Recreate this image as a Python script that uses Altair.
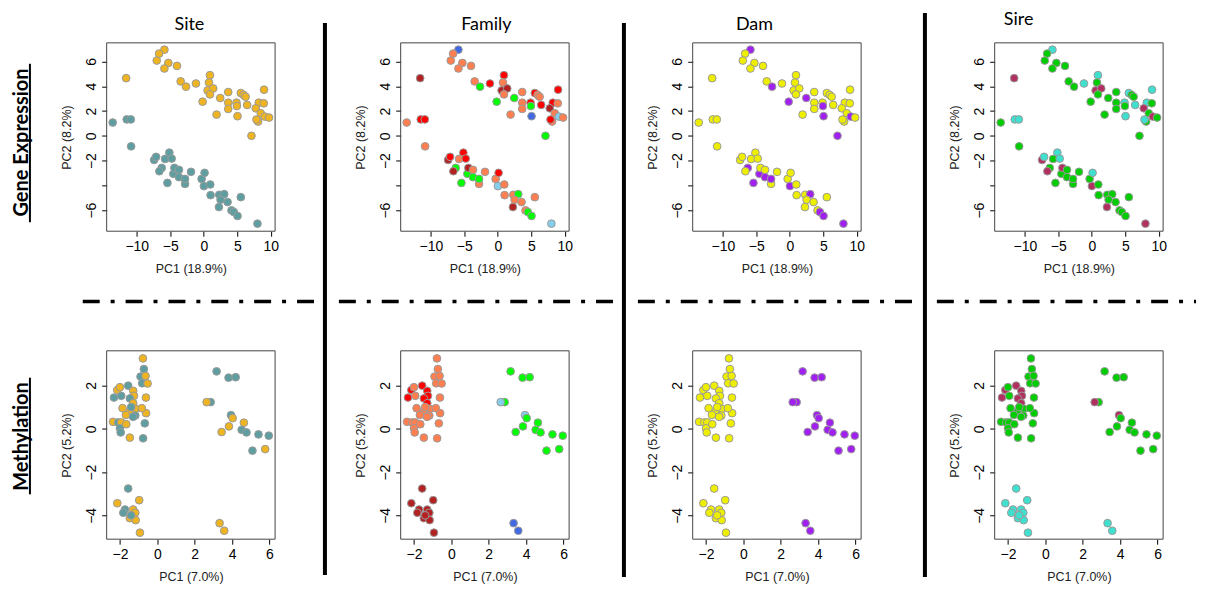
import altair as alt
import pandas as pd

# ---------------- Gene expression PCA (PC1 18.9 %, PC2 8.2 %) ----------------
ge_pc1 = [-5.88, -6.67, -7.02, -5.29, -5.88, -4.00, -11.59, -3.45, -2.65, -1.17,
          0.92, 0.77, 0.57, 1.41, 0.92, -0.17, 1.91, 2.46, 3.65, 3.65,
          3.65, 4.89, 5.04, 5.53, 5.95, 6.25, 6.48, 4.94, 7.12, 9.00,
          8.21, 8.96, 7.76, 8.51, 8.11, 9.11, 9.75, 7.87,
          -13.60, -11.50, -10.90, -10.85,
          -7.42, -7.12, -5.14, -5.78, -4.79, -6.28, -6.63, -5.43, -4.54, -4.39,
          -3.70, -3.70, -2.80, -2.80, -1.91, -0.32, 0.12, 0.02, 0.97, 1.02,
          2.31, 3.05, 2.51, 2.26, 3.55, 4.14, 4.49, 5.04, 5.53, 8.01]
ge_pc2 = [6.95, 6.63, 6.07, 5.88, 5.43, 5.64, 4.65, 4.39, 3.96, 4.22,
          4.89, 4.30, 3.66, 3.82, 3.34, 2.75, 1.71, 3.05, 3.53, 2.67,
          2.17, 2.67, 1.58, 3.45, 3.30, 3.15, 2.49, 2.40, 0.00, 3.72,
          2.67, 2.62, 2.22, 1.82, 1.15, 1.55, 1.47, 1.31,
          1.07, 1.32, 1.32, -0.85,
          -1.95, -1.70, -1.36, -1.87, -1.84, -2.59, -2.86, -3.80, -3.07, -2.59,
          -2.75, -3.34, -3.88, -3.48, -2.91, -3.48, -2.99, -4.06, -3.93, -4.79,
          -4.76, -4.71, -5.16, -5.75, -5.35, -6.02, -6.15, -6.47, -4.95, -7.09]
ge_site = ["A"] * 38 + ["B"] * 34
ge_family = ["F5", "F3", "F3", "F3", "F3", "F3", "F2", "F3", "F4", "F1",
             "F1", "F3", "F2", "F2", "F3", "F4", "F3", "F4", "F3", "F3",
             "F3", "F1", "F5", "F1", "F3", "F3", "F1", "F4", "F4", "F1",
             "F1", "F3", "F2", "F3", "F3", "F6", "F3", "F1",
             "F3", "F1", "F1", "F3",
             "F2", "F1", "F1", "F3", "F1", "F4", "F2", "F4", "F4", "F2",
             "F3", "F4", "F3", "F4", "F3", "F3", "F1", "F6", "F3", "F3",
             "F3", "F4", "F3", "F2", "F3", "F3", "F4", "F4", "F3", "F6"]

# ---------------- Methylation PCA (PC1 7.0 %, PC2 5.2 %) ----------------
meth_pc1 = [-0.77, -0.72, -0.90, -0.63, -0.81, -0.52, -0.61, -0.60, -0.67, -0.76,
            -1.47, -2.32, -2.14, -2.00, -1.93, -1.56, -1.29, -1.25, -1.47, -1.29,
            -1.86, -1.16, -0.83, -1.50, -1.68, -1.18, -2.37, -2.09, -1.93, -2.00,
            -1.96, -1.66, -1.40, -1.30,
            -1.56, -2.14, -1.73, -1.82, -1.29, -1.18, -0.97, -1.47, -1.16, -1.40, -0.93,
            3.17, 3.81, 4.19, 2.85, 2.64, 3.94, 4.03, 3.83, 3.44, 4.63,
            4.51, 4.77, 5.41, 5.96, 5.09, 5.77, 3.33, 3.58]
meth_pc2 = [3.25, 2.76, 2.41, 2.44, 2.10, 2.09, 1.44, 0.72, 0.25, -0.44,
            -0.41, 1.44, 1.79, 1.92, 1.52, 1.99, 1.75, 1.52, 1.40, 1.18,
            0.95, 0.92, 0.95, 0.77, 0.64, 0.61, 0.32, 0.29, 0.29, 0.02,
            -0.17, 0.21, 1.00, 0.55,
            -2.76, -3.44, -3.73, -3.88, -3.73, -3.88, -3.30, -4.13, -4.22, -4.00, -4.80,
            2.65, 2.36, 2.38, 1.23, 1.23, 0.63, 0.49, 0.11, -0.15, 0.28,
            -0.05, -0.17, -0.26, -0.32, -1.01, -0.94, -4.36, -4.71]
meth_site = ["A", "B", "B", "A", "B", "A", "A", "A", "B", "B",
             "A", "B", "A", "A", "B", "B", "A", "A", "B", "A",
             "A", "A", "A", "A", "A", "B", "A", "B", "A", "B",
             "B", "A", "B", "B",
             "B", "A", "B", "B", "A", "A", "A", "A", "A", "B", "A",
             "B", "B", "B", "B", "A", "B", "A", "A", "A", "A",
             "B", "B", "B", "B", "B", "A", "A", "A"]
meth_family = ["F3"] * 11 + ["F1", "F1", "F3", "F3", "F1", "F1", "F1", "F1", "F1"] + ["F3"] * 14 \
    + ["F2"] * 11 \
    + ["F4", "F4", "F4", "F4", "F6", "F6", "F4", "F4", "F4", "F4",
       "F4", "F4", "F4", "F4", "F4", "F4", "F5", "F5"]

# ---------------- groupings ----------------
site_levels = ["A", "B"]
family_levels = ["F1", "F2", "F3", "F4", "F5", "F6"]
dam_levels = ["D1", "D2"]
sire_levels = ["S1", "S2", "S3"]
dam_of_family = {"F1": "D1", "F2": "D1", "F3": "D1", "F4": "D2", "F5": "D2", "F6": "D2"}
ge_sire_of_family = {"F1": "S3", "F2": "S2", "F3": "S1", "F4": "S1", "F5": "S3", "F6": "S2"}
meth_sire_of_family = {"F1": "S2", "F2": "S3", "F3": "S1", "F4": "S1", "F5": "S3", "F6": "S2"}

panel_titles = ["Site", "Family", "Dam", "Sire"]
row_titles = ["Gene Expression", "Methylation"]

COLORS = {
    "Site": (site_levels, ["#EEB422", "#5F9EA0"]),
    "Family": (family_levels, ["#FF0000", "#B22222", "#FF7F50", "#00FF00", "#4169E1", "#87CEEB"]),
    "Dam": (dam_levels, ["#EEEE00", "#A020F0"]),
    "Sire": (sire_levels, ["#00CD00", "#B03060", "#40E0D0"]),
}

ge = pd.DataFrame({"pc1": ge_pc1, "pc2": ge_pc2, "Site": ge_site, "Family": ge_family})
ge["Dam"] = ge["Family"].map(dam_of_family)
ge["Sire"] = ge["Family"].map(ge_sire_of_family)
meth = pd.DataFrame({"pc1": meth_pc1, "pc2": meth_pc2, "Site": meth_site, "Family": meth_family})
meth["Dam"] = meth["Family"].map(dam_of_family)
meth["Sire"] = meth["Family"].map(meth_sire_of_family)

W, H = 169, 189
one = pd.DataFrame({"k": [0]})


def scatter(df, field, xdom, ydom, xvals, yvals, xtitle, ytitle, label_expr=None):
    yax = dict(values=yvals, title=ytitle)
    if label_expr:
        yax["labelExpr"] = label_expr
    dom, rng = COLORS[field]
    return alt.Chart(df).mark_circle(size=60, opacity=1, stroke="#9a9a9a", strokeWidth=1).encode(
        x=alt.X("pc1:Q", scale=alt.Scale(domain=xdom, nice=False, zero=False),
                axis=alt.Axis(values=xvals, title=xtitle)),
        y=alt.Y("pc2:Q", scale=alt.Scale(domain=ydom, nice=False, zero=False),
                axis=alt.Axis(**yax)),
        color=alt.Color(f"{field}:N", scale=alt.Scale(domain=dom, range=rng), legend=None),
    )


def frame():
    return alt.Chart(one).mark_rect(fillOpacity=0, stroke="#444444", strokeWidth=1).encode(
        x=alt.value(0), x2=alt.value(W), y=alt.value(0), y2=alt.value(H))


def label(text, x, y, size=18, weight="normal", angle=0):
    return alt.Chart(one).mark_text(text=text, font="Lato", fontSize=size, fontWeight=weight,
                                    angle=angle, align="center", baseline="alphabetic",
                                    color="black").encode(x=alt.value(x), y=alt.value(y))


def hline(x1, x2, y, dash, width, color="black"):
    return alt.Chart(one).mark_rule(color=color, strokeWidth=width, strokeDash=dash,
                                    strokeCap="butt").encode(
        x=alt.value(x1), x2=alt.value(x2), y=alt.value(y))


def vline(x, y1, y2, width, color="black", opacity=1):
    return alt.Chart(one).mark_rule(color=color, strokeWidth=width, opacity=opacity).encode(
        x=alt.value(x), y=alt.value(y1), y2=alt.value(y2))


title_pos = [(83, -13), (86, -13), (62, -13), (24, -18)]
dash_pos = [(-24, 208), (-62, 213), (-55, 220), (-58, 202)]
DASH = [17, 11, 4, 11]

row1, row2 = [], []
for i, field in enumerate(panel_titles):
    sc = scatter(ge, field, [-14.5, 10.65], [-7.7, 7.5], [-10, -5, 0, 5, 10],
                 [-6, -4, -2, 0, 2, 4, 6], "PC1 (18.9%)", "PC2 (8.2%)",
                 "datum.value == -4 ? '' : datum.label")
    layers = [sc, frame(), label(panel_titles[i], *title_pos[i])]
    if i == 0:
        layers += [label(row_titles[0], -79, 100, size=20, weight="bold", angle=270),
                   vline(-77, 21, 180, 2),
                   hline(-98.5, -97.5, -33.5, [1, 0], 1, color="white")]
    row1.append(alt.layer(*layers).properties(width=W, height=H))

    sc2 = scatter(meth, field, [-2.71, 6.3], [-5.1, 3.6], [-2, 0, 2, 4, 6],
                  [-4, -2, 0, 2], "PC1 (7.0%)", "PC2 (5.2%)")
    layers2 = [sc2, frame(), hline(dash_pos[i][0], dash_pos[i][1], -49.5, DASH, 3.5)]
    if i == 0:
        layers2 += [label(row_titles[1], -79, 86, size=20, weight="bold", angle=270),
                    vline(-77, 27, 144, 2)]
    row2.append(alt.layer(*layers2).properties(width=W, height=H))

spacer_w = [126, 124, 134]
sep = [(50, -20, 534), (55, -20, 536), (64, -30, 536)]
cells = []
for r, row in enumerate([row1, row2]):
    for i, p in enumerate(row):
        cells.append(p)
        if i < 3:
            if r == 0:
                sp = vline(*sep[i], 4)
            else:
                sp = vline(0, 0, 1, 1, color="white", opacity=0)
            cells.append(sp.properties(width=spacer_w[i], height=H))

chart = alt.concat(*cells, columns=7, spacing={"row": 120, "column": 0},
                   bounds="flush", align="each", padding=0).resolve_scale(
    color="independent"
).configure_view(
    strokeOpacity=0
).configure_axis(
    labelFont="Liberation Sans", labelFontSize=14, labelColor="#000000",
    titleFont="Liberation Sans", titleFontSize=12.5, titleColor="#222222",
    titleFontWeight="normal", tickColor="#000000", tickSize=5, tickWidth=1,
    domain=False, grid=False, labelFlush=False, labelOverlap=False
).configure_axisX(
    labelPadding=3, titlePadding=9
).configure_axisY(
    labelAngle=270, labelAlign="center", labelBaseline="bottom", labelPadding=3, titlePadding=11
)

chart.save("out.html", embed_options={"renderer": "svg", "actions": False})
